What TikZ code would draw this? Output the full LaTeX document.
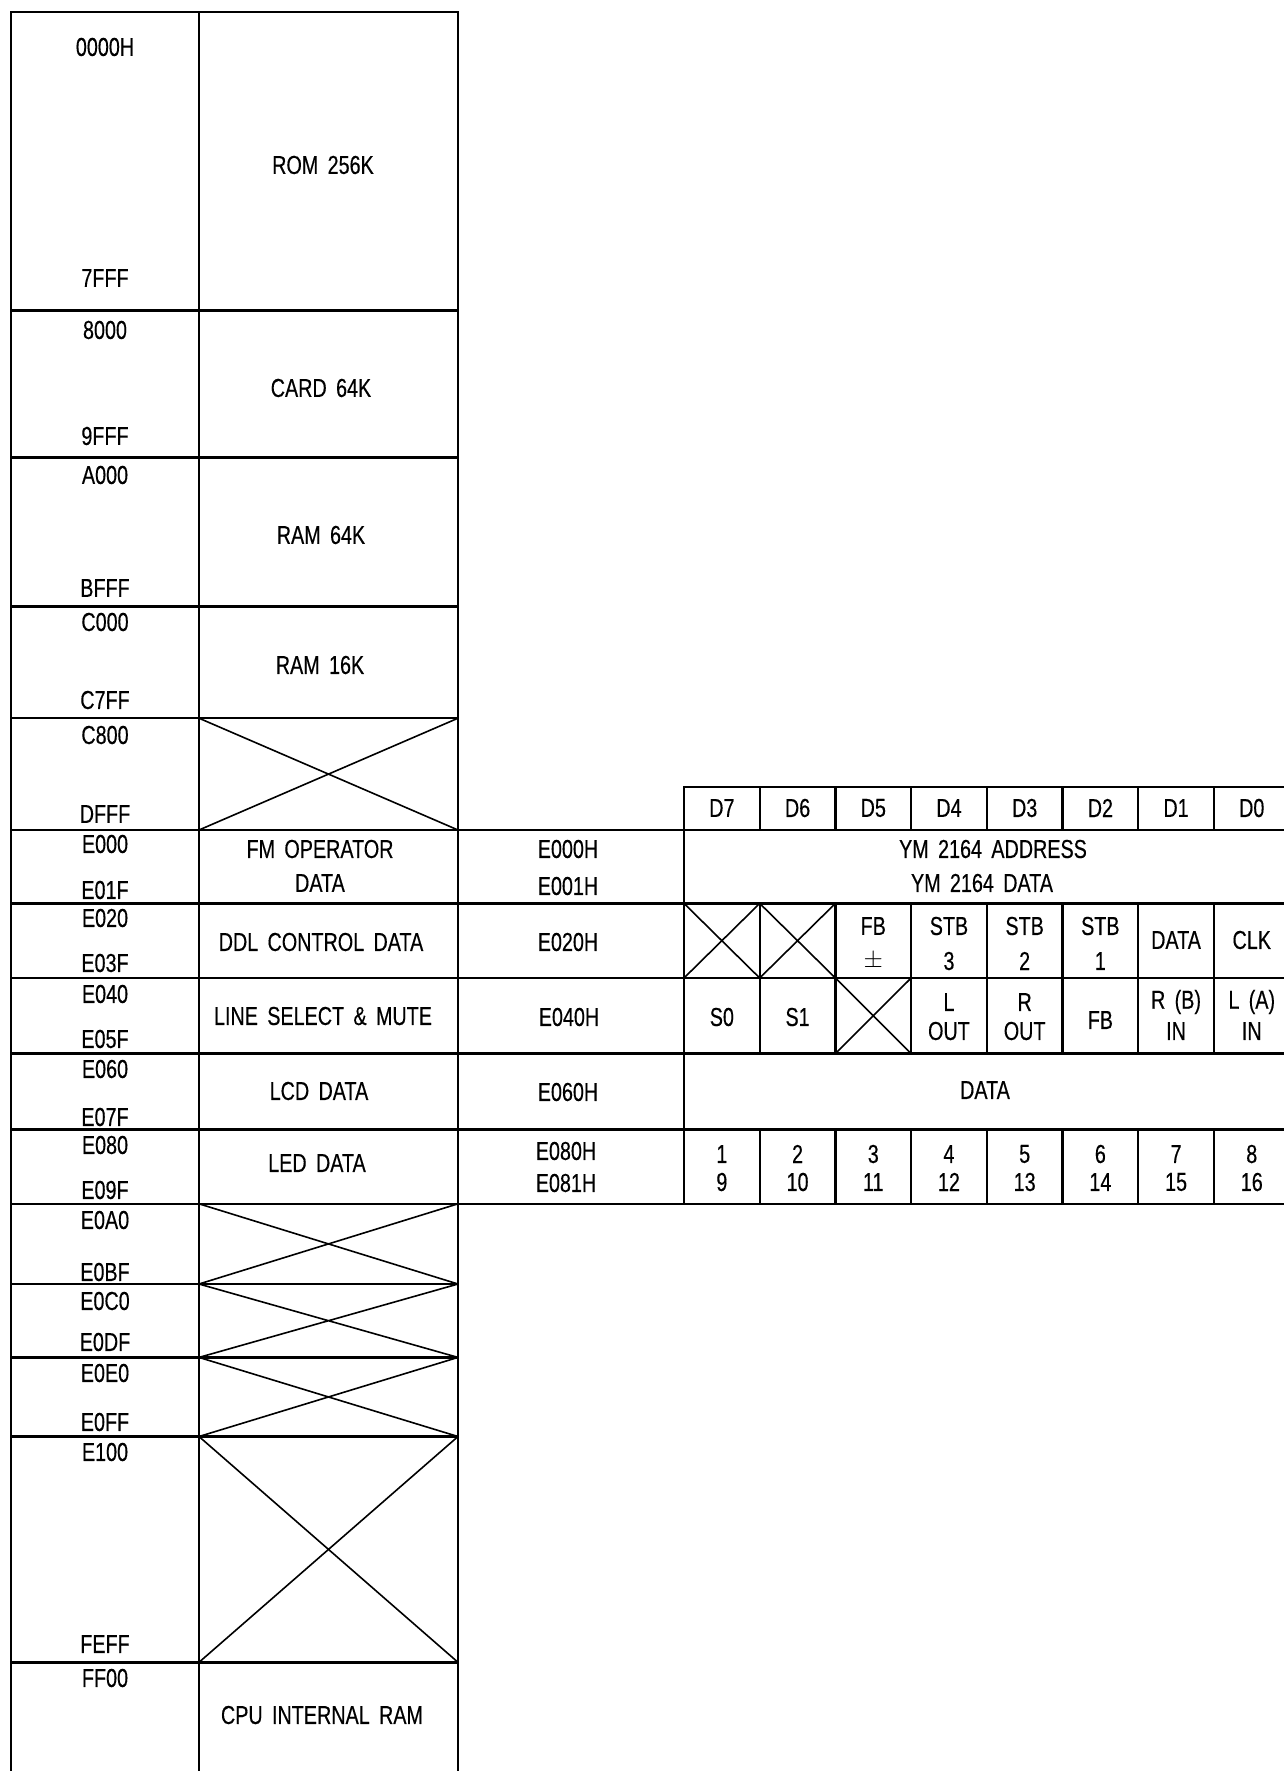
\documentclass[tikz,border=0pt]{standalone}
\usepackage{fontspec}
\setmainfont[FakeStretch=0.76,FakeBold=0.35,WordSpace=1.7]{Liberation Sans}
\begin{document}
\begin{tikzpicture}[x=1pt,y=-1pt,
  frame/.style={line width=2.4pt,line cap=rect},
  thin/.style={line width=1.6pt},
  lbl/.style={font=\fontsize{26}{30}\selectfont,inner sep=0pt}]
\useasboundingbox (0,0) rectangle (1284,1771);
% ---------------- left memory map frame
\draw[frame] (11,1771) -- (11,12) -- (458,12) -- (458,1771);
\draw[frame] (199,12) -- (199,1771);
\foreach \y in {310.6,457.4,606.4,718.2,1284,1357.4,1436.5,1662.3}
  \draw[frame] (11,\y) -- (458,\y);
\foreach \y in {830,903.4,978,1053.6,1129.3,1203.8}
  \draw[frame] (11,\y) -- (1284,\y);
% crosses in left block
\foreach \ya/\yb in {718.2/830,1203.8/1284,1284/1357.4,1357.4/1436.5,1436.5/1662.3}
  \draw[thin] (199,\ya) -- (458,\yb) (199,\yb) -- (458,\ya);
% ---------------- register table
\draw[frame] (684,830) -- (684,787) -- (1284,787);
\draw[frame] (684,787) -- (684,1203.8);
\foreach \i in {1,...,7}{
  \pgfmathsetmacro{\xx}{684+75.7*\i}
  \draw[frame] (\xx,787) -- (\xx,830);
  \draw[frame] (\xx,903.4) -- (\xx,1053.6);
  \draw[frame] (\xx,1129.3) -- (\xx,1203.8);
}
% crosses in table
\draw[thin] (684,903.4) -- (759.7,978) (684,978) -- (759.7,903.4);
\draw[thin] (759.7,903.4) -- (835.4,978) (759.7,978) -- (835.4,903.4);
\draw[thin] (835.4,978) -- (911.1,1053.6) (835.4,1053.6) -- (911.1,978);
% ---------------- address labels
\foreach \n/\t/\y in {a1/0000H/47,a2/7FFF/278,a3/8000/330,a4/9FFF/436,a5/A000/475,a6/BFFF/588,
  a7/C000/622,a8/C7FF/700,a9/C800/735,a10/DFFF/814,a11/E000/844,a12/E01F/890,
  a13/E020/918,a14/E03F/963,a15/E040/994,a16/E05F/1039,a17/E060/1069,a18/E07F/1117,
  a19/E080/1145,a20/E09F/1190,a21/E0A0/1220,a22/E0BF/1272,a23/E0C0/1301,a24/E0DF/1342,
  a25/E0E0/1373,a26/E0FF/1422,a27/E100/1452,a28/FEFF/1644,a29/FF00/1678}
  \node[lbl] (\n) at (105,\y) {\t};
% ---------------- block names
\node[lbl] (rom) at (323,165) {ROM 256K};
\node[lbl] (card) at (321,388) {CARD 64K};
\node[lbl] (ram64) at (321,535) {RAM 64K};
\node[lbl] (ram16) at (320,665) {RAM 16K};
\node[lbl] (fm1) at (320,849) {FM OPERATOR};
\node[lbl] (fm2) at (320,883) {DATA};
\node[lbl] (ddl) at (321,942) {DDL CONTROL DATA};
\node[lbl] (line) at (323,1016) {LINE SELECT \& MUTE};
\node[lbl] (lcd) at (319,1091) {LCD DATA};
\node[lbl] (led) at (317,1163) {LED DATA};
\node[lbl] (cpu) at (322,1715) {CPU INTERNAL RAM};
% ---------------- register addresses
\node[lbl] (h1) at (568,849) {E000H};
\node[lbl] (h2) at (568,886) {E001H};
\node[lbl] (h3) at (568,942) {E020H};
\node[lbl] (h4) at (569,1017) {E040H};
\node[lbl] (h5) at (568,1092) {E060H};
\node[lbl] (h6) at (566,1151) {E080H};
\node[lbl] (h7) at (566,1183) {E081H};
% ---------------- header
\foreach \i/\t in {0/D7,1/D6,2/D5,3/D4,4/D3,5/D2,6/D1,7/D0}
  \node[lbl] (hd\i) at ({684+75.7*(\i+0.5)},808) {\t};
% YM rows
\node[lbl] (ym1) at (993,849) {YM 2164 ADDRESS};
\node[lbl] (ym2) at (982,883) {YM 2164 DATA};
% DDL row
\foreach \i/\a/\b in {2/FB/$\pm$,3/STB/3,4/STB/2,5/STB/1}{
  \node[lbl] (da\i) at ({684+75.7*(\i+0.5)},926) {\a};
  \node[lbl] (db\i) at ({684+75.7*(\i+0.5)},961) {\b};
}
\node[lbl] (dd6) at ({684+75.7*6.5},940) {DATA};
\node[lbl] (dd7) at ({684+75.7*7.5},940) {CLK};
% LINE row
\node[lbl] (l0) at ({684+75.7*0.5},1017) {S0};
\node[lbl] (l1) at ({684+75.7*1.5},1017) {S1};
\node[lbl] (l5) at ({684+75.7*5.5},1020) {FB};
\foreach \i/\a/\b in {3/L/OUT,4/R/OUT,6/R (B)/IN,7/L (A)/IN}{
  \node[lbl] (la\i) at ({684+75.7*(\i+0.5)},1002) {\a};
  \node[lbl] (lb\i) at ({684+75.7*(\i+0.5)},1031) {\b};
}
% DATA row
\node[lbl] (lcddata) at (985,1090) {DATA};
% LED row
\foreach \i in {0,...,7}{
  \pgfmathtruncatemacro{\u}{\i+1}
  \pgfmathtruncatemacro{\v}{\i+9}
  \node[lbl] (ea\i) at ({684+75.7*(\i+0.5)},1154) {\u};
  \node[lbl] (eb\i) at ({684+75.7*(\i+0.5)},1182) {\v};
}
\end{tikzpicture}
\end{document}
